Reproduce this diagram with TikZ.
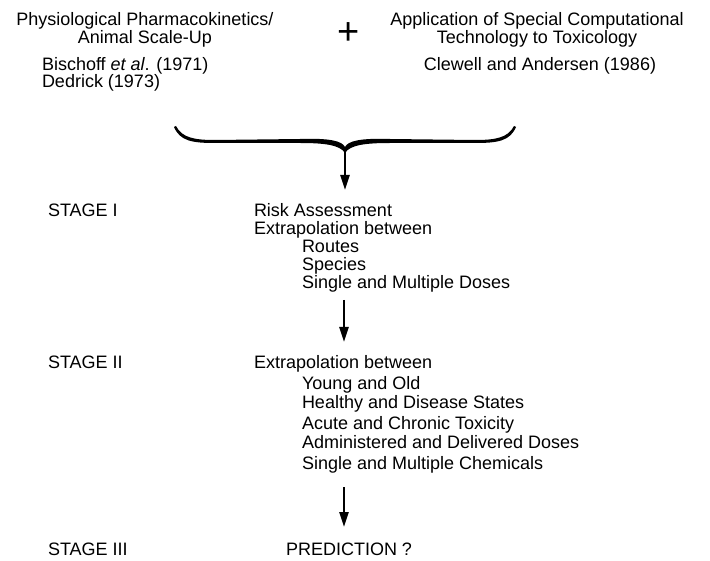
\documentclass[tikz,border=0pt]{standalone}
\usepackage{fontspec}
\setmainfont{Liberation Sans}
\usetikzlibrary{arrows.meta}
\tikzset{
  txt/.style={inner sep=0pt, outer sep=0pt, anchor=base west, font=\fontsize{18}{20}\selectfont},
  ctxt/.style={txt, anchor=base},
  flow/.style={line width=2.6pt, -{Triangle[length=15pt,width=9pt]}},
}
\begin{document}
\begin{tikzpicture}[x=1pt,y=-1pt]
\useasboundingbox (0,0) rectangle (710,561);
% top sources
\node[ctxt] (t1a) at (145,26) {Physiological Pharmacokinetics/};
\node[ctxt] (t1b) at (145,44) {Animal Scale-Up};
\node[txt] (r1) at (42,71) {Bischoff \textit{et al}. (1971)};
\node[txt] (r2) at (42,88) {Dedrick (1973)};
\node[inner sep=0pt, font=\fontsize{38}{38}\selectfont] (plus) at (349,34) {+};
\node[ctxt] (t2a) at (537,26) {Application of Special Computational};
\node[ctxt] (t2b) at (537,44) {Technology to Toxicology};
\node[ctxt] (r3) at (540,71) {Clewell and Andersen (1986)};
% brace
\fill (176,126) .. controls (182,138) and (195,140) .. (215,140)
  -- (300,139) .. controls (330,138) and (342,141) .. (345,147)
  .. controls (348,141) and (360,138) .. (390,139)
  -- (475,140) .. controls (495,140) and (508,138) .. (514,126)
  -- (516,127) .. controls (510,141) and (498,143) .. (475,143)
  -- (390,143) .. controls (365,143) and (350,145) .. (345,153)
  .. controls (340,145) and (325,143) .. (300,143)
  -- (215,143) .. controls (192,143) and (180,141) .. (174,127) -- cycle;
\coordinate (b0) at (345,150);
\coordinate (b1) at (345,190);
\draw[flow] (b0) -- (b1);
% stage I
\node[txt] (s1) at (48,217) {STAGE I};
\node[txt] (s1a) at (254,217) {Risk Assessment};
\node[txt] (s1b) at (254,235) {Extrapolation between};
\node[txt] (s1c) at (302,253) {Routes};
\node[txt] (s1d) at (302,271) {Species};
\node[txt] (s1e) at (302,289) {Single and Multiple Doses};
\coordinate (a10) at (344,300);
\coordinate (a11) at (344,342);
\draw[flow] (a10) -- (a11);
% stage II
\node[txt] (s2) at (48,369) {STAGE II};
\node[txt] (s2a) at (254,369) {Extrapolation between};
\node[txt] (s2b) at (302,390) {Young and Old};
\node[txt] (s2c) at (302,409) {Healthy and Disease States};
\node[txt] (s2d) at (302,429) {Acute and Chronic Toxicity};
\node[txt] (s2e) at (302,449) {Administered and Delivered Doses};
\node[txt] (s2f) at (302,469) {Single and Multiple Chemicals};
\coordinate (a20) at (344,487);
\coordinate (a21) at (344,527);
\draw[flow] (a20) -- (a21);
% stage III
\node[txt] (s3) at (48,555) {STAGE III};
\node[txt] (s3a) at (286,555) {PREDICTION ?};
\end{tikzpicture}
\end{document}
